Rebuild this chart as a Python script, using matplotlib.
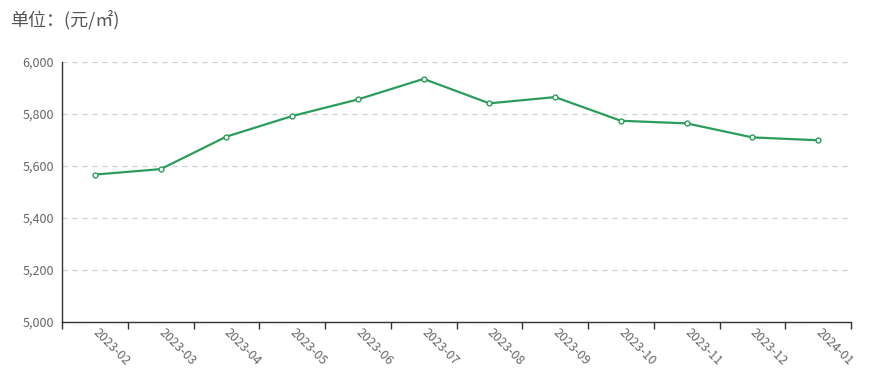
import matplotlib
matplotlib.use("Agg")
import matplotlib.pyplot as plt
from matplotlib.ticker import FuncFormatter, FixedLocator
import numpy as np

plt.rcParams['font.family'] = ['Noto Sans CJK SC', 'DejaVu Sans']

categories = ["2023-02", "2023-03", "2023-04", "2023-05", "2023-06", "2023-07",
              "2023-08", "2023-09", "2023-10", "2023-11", "2023-12", "2024-01"]
values = [5567, 5588, 5713, 5792, 5856, 5935, 5841, 5865, 5774, 5764, 5710, 5699]
y_ticks = [5000, 5200, 5400, 5600, 5800, 6000]
title = "单位：(元/㎡)"

fig = plt.figure(figsize=(8.9, 3.92), dpi=100)
ax = fig.add_axes([62/890, 1 - 322/392, (851 - 62)/890, (322 - 62)/392])

n = len(categories)
x = np.arange(n)
ax.plot(x, values, color='#2a9d5c', linewidth=1.6, marker='o', markersize=3.5,
        markerfacecolor='white', markeredgecolor='#2a9d5c', markeredgewidth=1.0, zorder=3)

ax.set_xlim(-0.5, n - 0.5)
ax.set_ylim(5000, 6000)
ax.set_yticks(y_ticks)
ax.yaxis.set_major_formatter(FuncFormatter(lambda v, p: f"{int(v):,}"))
ax.tick_params(axis='y', length=0, labelsize=9, labelcolor='#666666', pad=6)
ax.grid(axis='y', color='#cccccc', linestyle=(0, (4, 4)), linewidth=0.9)
ax.set_axisbelow(True)

# x ticks: marks at boundaries, labels at centers
ax.xaxis.set_major_locator(FixedLocator(x))
ax.set_xticklabels(categories)
ax.xaxis.set_minor_locator(FixedLocator(np.arange(n + 1) - 0.5))
ax.tick_params(axis='x', which='major', length=0, labelsize=9, labelcolor='#666666', pad=6)
ax.tick_params(axis='x', which='minor', length=5, color='#333333', width=1)
for lbl in ax.get_xticklabels():
    lbl.set_rotation(-45)
    lbl.set_rotation_mode('anchor')
    lbl.set_ha('left')
    lbl.set_va('center')

for s in ['top', 'right']:
    ax.spines[s].set_visible(False)
for s in ['left', 'bottom']:
    ax.spines[s].set_color('#333333')
    ax.spines[s].set_linewidth(1)

fig.text(10/890, 1 - 20/392, title, fontsize=13, color='#555555', va='center', ha='left')

fig.savefig("out.png", dpi=100)
